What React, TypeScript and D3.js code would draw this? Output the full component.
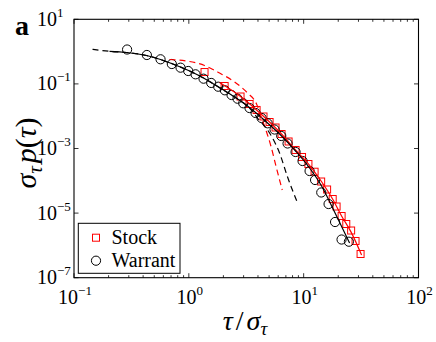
import * as d3 from "d3";

// Stock (red squares)
const stockTau = [1.37, 2.05, 2.82, 3.38, 3.89, 4.47, 5.05, 5.69, 6.42, 7.39, 8.5, 9.68, 11.0, 12.45, 14.2, 16.0, 17.9, 19.35, 21.4, 23.5, 25.9, 28.3, 31.3];
const stockP = [0.233, 0.0861, 0.0407, 0.0239, 0.0156, 0.00979, 0.00661, 0.00447, 0.00281, 0.00165, 9.0e-4, 5.46e-4, 3.31e-4, 1.91e-4, 9.5e-5, 5.38e-5, 2.73e-5, 1.6e-5, 8.13e-6, 4.6e-6, 2.89e-6, 1.37e-6, 5.42e-7];

// Warrant (black circles)
const warrantTau = [0.29, 0.431, 0.567, 0.711, 0.847, 0.988, 1.144, 1.343, 1.567, 1.803, 2.059, 2.355, 2.656, 2.978, 3.379, 3.811, 4.298, 4.849, 5.579, 6.38, 7.24, 8.5, 9.78, 11.26, 12.57, 14.23, 16.48, 18.77, 21.38, 24.76];
const warrantP = [1.16, 0.785, 0.578, 0.413, 0.318, 0.251, 0.198, 0.145, 0.107, 0.0819, 0.0634, 0.0453, 0.0348, 0.0251, 0.0179, 0.0126, 0.00879, 0.00603, 0.00387, 0.00244, 0.00143, 7.8e-4, 4.1e-4, 2.01e-4, 1.06e-4, 4.35e-5, 1.91e-5, 5.3e-6, 1.52e-6, 1.3e-6];

// fitted curves
const stockFitTau = [1.851, 2.82, 3.888, 5.047, 6.42, 8.5, 11.03, 14.18, 17.86, 21.38, 25.88, 31.95];
const stockFitP = [0.11, 0.0407, 0.0156, 0.00661, 0.00281, 9.0e-4, 3.31e-4, 9.86e-5, 2.73e-5, 8.13e-6, 2.58e-6, 5.04e-7];
const stockDashTau = [0.679, 0.955, 1.37, 1.851, 2.501, 3.245, 3.888, 4.298, 4.752, 5.2, 5.75, 6.511];
const stockDashP = [0.569, 0.512, 0.371, 0.217, 0.115, 0.0523, 0.0239, 0.00879, 0.00324, 0.00115, 2.77e-4, 5.19e-5];

const warrantFitTau = [0.2038, 0.2867, 0.428, 0.567, 0.707, 0.994, 1.343, 1.814, 2.355, 2.996, 3.811, 4.849, 6.42, 8.5, 11.26, 14.32, 18.59, 25.11];
const warrantFitP = [1.02, 0.938, 0.757, 0.569, 0.428, 0.26, 0.152, 0.0802, 0.0453, 0.0256, 0.013, 0.00615, 0.00244, 8.37e-4, 2.49e-4, 6.9e-5, 1.08e-5, 1.19e-6];
const warrantDashTau = [0.1449, 0.2038, 0.2867, 0.428, 0.567, 0.707, 0.994, 1.343, 1.814, 2.355, 2.996, 3.379, 3.967, 5.047, 6.166, 7.24, 8.85];
const warrantDashP = [1.18, 1.02, 0.938, 0.757, 0.569, 0.428, 0.26, 0.152, 0.0802, 0.0453, 0.0256, 0.0179, 0.00879, 0.00302, 7.26e-4, 1.31e-4, 2.06e-5];

const xTickExps = [-1, 0, 1, 2];
const yTickExps = [1, -1, -3, -5, -7];
const legendLabels = ["Stock", "Warrant"];

const width = 436;
const height = 342;
const margin = { top: 19.3, right: 17.5, bottom: 64.3, left: 74 };
const serif = "Liberation Serif, Times New Roman, serif";

const zip = (a: number[], b: number[]) => a.map((v, i) => [v, b[i]] as [number, number]);

export default function App() {
  const x = d3.scaleLog().domain([0.1, 100]).range([margin.left, width - margin.right]);
  const y = d3.scaleLog().domain([1e-7, 10]).range([height - margin.bottom, margin.top]);
  const x0 = margin.left, x1 = width - margin.right;
  const y0 = height - margin.bottom, y1 = margin.top;

  const line = d3
    .line<[number, number]>()
    .x((d) => x(d[0]))
    .y((d) => y(d[1]))
    .curve(d3.curveMonotoneX);

  const majorX = xTickExps.map((e) => Math.pow(10, e));
  const minorX = x.ticks().filter((t) => !majorX.some((m) => Math.abs(m - t) / m < 1e-6));

  return (
    <svg width={width} height={height} style={{ position: "absolute", left: 0, top: 0, background: "#fff" }} fontFamily={serif}>
      <rect width={width} height={height} fill="#fff" />
      {/* markers */}
      <g fill="none" stroke="#ff0000" strokeWidth={1}>
        {zip(stockTau, stockP).map((d, i) => (
          <rect key={i} x={x(d[0]) - 3.5} y={y(d[1]) - 3.5} width={7} height={7} />
        ))}
      </g>
      <g fill="none" stroke="#000" strokeWidth={1}>
        {zip(warrantTau, warrantP).map((d, i) => (
          <circle key={i} cx={x(d[0])} cy={y(d[1])} r={4.6} />
        ))}
      </g>
      {/* fits */}
      <path d={line(zip(stockFitTau, stockFitP)) || ""} fill="none" stroke="#ff0000" strokeWidth={1.2} />
      <path d={line(zip(warrantFitTau, warrantFitP)) || ""} fill="none" stroke="#000" strokeWidth={1.2} />
      <path d={line(zip(stockDashTau, stockDashP)) || ""} fill="none" stroke="#ff0000" strokeWidth={1.2} strokeDasharray="6,4" />
      <path d={line(zip(warrantDashTau, warrantDashP)) || ""} fill="none" stroke="#000" strokeWidth={1.2} strokeDasharray="6,4" />

      {/* frame and ticks */}
      <rect x={x0} y={y1} width={x1 - x0} height={y0 - y1} fill="none" stroke="#000" strokeWidth={1.1} />
      <g stroke="#000" strokeWidth={0.8}>
        {majorX.map((t) => (
          <g key={"M" + t}>
            <line x1={x(t)} x2={x(t)} y1={y0} y2={y0 - 4.5} />
            <line x1={x(t)} x2={x(t)} y1={y1} y2={y1 + 4.5} />
          </g>
        ))}
        {minorX.map((t) => (
          <g key={"m" + t}>
            <line x1={x(t)} x2={x(t)} y1={y0} y2={y0 - 2.5} />
            <line x1={x(t)} x2={x(t)} y1={y1} y2={y1 + 2.5} />
          </g>
        ))}
        {yTickExps.map((e) => (
          <g key={"y" + e}>
            <line x1={x0} x2={x0 + 4.5} y1={y(Math.pow(10, e))} y2={y(Math.pow(10, e))} />
            <line x1={x1} x2={x1 - 4.5} y1={y(Math.pow(10, e))} y2={y(Math.pow(10, e))} />
          </g>
        ))}
      </g>
      {/* tick labels */}
      <g fontSize={20} fill="#000">
        {xTickExps.map((e) => (
          <text key={e} x={x(Math.pow(10, e)) + 1} y={304} textAnchor="middle">
            10
            <tspan fontSize={13} dy={-9}>
              {e < 0 ? "\u2212" + Math.abs(e) : e}
            </tspan>
          </text>
        ))}
        {yTickExps.map((e) => (
          <text key={e} x={37} y={y(Math.pow(10, e)) + 6.5}>
            10
            <tspan fontSize={13} dy={-9}>
              {e < 0 ? "\u2212" + Math.abs(e) : e}
            </tspan>
          </text>
        ))}
      </g>

      {/* axis labels */}
      <text x={245} y={330} textAnchor="middle" fontSize={28} fontStyle="italic">
        τ<tspan fontStyle="normal" dx={3}>/</tspan>
        <tspan dx={3}>σ</tspan>
        <tspan fontSize={19} dy={5}>τ</tspan>
      </text>
      <text transform="translate(36,153) rotate(-90)" textAnchor="middle" fontSize={30} fontStyle="italic">
        σ<tspan fontSize={21} dy={6}>τ</tspan>
        <tspan dy={-6} dx={3}>p</tspan>
        <tspan fontStyle="normal">(</tspan>τ<tspan fontStyle="normal">)</tspan>
      </text>
      <text x={15} y={35} fontSize={28} fontWeight="bold">a</text>

      {/* legend */}
      <g>
        <rect x={78.3} y={223.3} width={101.7} height={50} fill="#fff" stroke="#000" strokeWidth={1} />
        <rect x={96 - 3.5} y={237.7 - 3.5} width={7} height={7} fill="none" stroke="#ff0000" />
        <circle cx={96} cy={260.7} r={4.6} fill="none" stroke="#000" />
        {legendLabels.map((l, i) => (
          <text key={l} x={111.5} y={243.5 + i * 23.3} fontSize={20}>
            {l}
          </text>
        ))}
      </g>
    </svg>
  );
}
